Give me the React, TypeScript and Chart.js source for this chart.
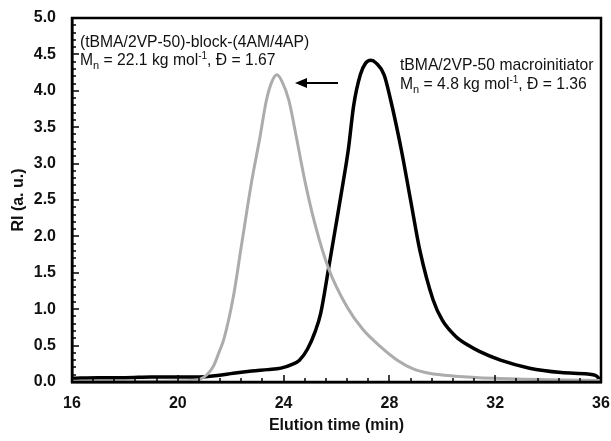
import React, { useEffect, useRef } from "react";
import { Chart, registerables } from "chart.js";
Chart.register(...registerables);

// (tBMA/2VP-50)-block-(4AM/4AP) — grey trace
const blockTime = [16.0, 19.0, 20.0, 20.5, 20.85, 21.1, 21.35, 21.55, 21.75, 22.1, 22.4, 22.8, 23.1, 23.35, 23.55, 23.75, 23.95, 24.2, 24.5, 24.8, 25.2, 25.7, 26.4, 27.0, 27.65, 28.3, 28.9, 29.5, 30.5, 32.0, 34.0, 36.0];
const blockRI = [0.01, 0.01, 0.015, 0.02, 0.04, 0.1, 0.22, 0.4, 0.6, 1.17, 1.86, 2.77, 3.35, 3.87, 4.12, 4.22, 4.12, 3.87, 3.33, 2.77, 2.15, 1.56, 1.03, 0.72, 0.49, 0.3, 0.18, 0.12, 0.08, 0.05, 0.03, 0.02];

// tBMA/2VP-50 macroinitiator — black trace
const macroTime = [16.0, 17.0, 18.0, 19.0, 20.0, 20.8, 21.5, 22.1, 22.8, 23.4, 23.9, 24.3, 24.6, 24.9, 25.2, 25.4, 25.7, 26.0, 26.25, 26.45, 26.65, 26.9, 27.1, 27.3, 27.5, 27.8, 28.05, 28.45, 28.8, 29.15, 29.65, 30.0, 30.5, 31.0, 31.4, 32.2, 33.3, 34.5, 35.5, 35.8, 36.0];
const macroRI = [0.05, 0.06, 0.06, 0.07, 0.07, 0.07, 0.09, 0.12, 0.15, 0.17, 0.19, 0.24, 0.3, 0.45, 0.7, 0.94, 1.56, 2.2, 2.74, 3.2, 3.8, 4.22, 4.38, 4.42, 4.38, 4.22, 3.87, 3.19, 2.5, 1.81, 1.13, 0.85, 0.63, 0.5, 0.42, 0.3, 0.19, 0.13, 0.11, 0.09, 0.02];

const xMin = 16;
const xMax = 36;
const xStep = 4;
const yMin = 0;
const yMax = 5;
const yStep = 0.5;

const W = 611;
const H = 441;
const FONT = "Arial, 'Liberation Sans', sans-serif";
const ANN = 15.7;

type Part = { t: string; kind?: "sub" | "sup" };

function drawRich(ctx: CanvasRenderingContext2D, x: number, y: number, parts: Part[]) {
  let cx = x;
  for (const p of parts) {
    if (p.kind === "sub") {
      ctx.font = `11px ${FONT}`;
      ctx.fillText(p.t, cx, y + 4);
    } else if (p.kind === "sup") {
      ctx.font = `10px ${FONT}`;
      ctx.fillText(p.t, cx, y - 6);
    } else {
      ctx.font = `${ANN}px ${FONT}`;
      ctx.fillText(p.t, cx, y);
    }
    cx += ctx.measureText(p.t).width;
  }
}

function drawDecor(chart: any, ctx: CanvasRenderingContext2D) {
  // pixel mapping taken from the library's own element positions (black trace)
  const pts = chart.getDatasetMeta(1).data;
  const n = pts.length - 1;
  const peak = macroRI.indexOf(Math.max(...macroRI));
  const X = (t: number) =>
    pts[0].x + ((t - macroTime[0]) * (pts[n].x - pts[0].x)) / (macroTime[n] - macroTime[0]);
  const Y = (v: number) =>
    pts[0].y + ((v - macroRI[0]) * (pts[peak].y - pts[0].y)) / (macroRI[peak] - macroRI[0]);
  const left = X(xMin);
  const right = X(xMax);
  const top = Y(yMax);
  const bottom = Y(yMin);
  ctx.save();

  // inner ticks
  ctx.strokeStyle = "#000";
  ctx.lineWidth = 1.5;
  const minorX = 5;
  const nx = ((xMax - xMin) / xStep) * minorX;
  for (let i = 0; i <= nx; i++) {
    const px = Math.round(X(xMin + (i * xStep) / minorX));
    const len = i % minorX === 0 ? 7 : 4;
    ctx.beginPath();
    ctx.moveTo(px, bottom);
    ctx.lineTo(px, bottom - len);
    ctx.stroke();
  }
  const minorY = 5;
  const ny = ((yMax - yMin) / yStep) * minorY;
  for (let i = 0; i <= ny; i++) {
    const py = Math.round(Y(yMin + (i * yStep) / minorY));
    const len = i % minorY === 0 ? 7 : 4;
    ctx.beginPath();
    ctx.moveTo(left, py);
    ctx.lineTo(left + len, py);
    ctx.stroke();
  }
  // frame
  ctx.lineWidth = 2.5;
  ctx.strokeRect(left, top, right - left, bottom - top);

  // annotations
  ctx.fillStyle = "#111";
  ctx.textBaseline = "alphabetic";
  ctx.textAlign = "left";
  drawRich(ctx, 80, 47, [{ t: "(tBMA/2VP-50)-block-(4AM/4AP)" }]);
  drawRich(ctx, 80, 65, [
    { t: "M" },
    { t: "n", kind: "sub" },
    { t: " = 22.1 kg mol" },
    { t: "-1", kind: "sup" },
    { t: ", Đ = 1.67" },
  ]);
  drawRich(ctx, 400, 70, [{ t: "tBMA/2VP-50 macroinitiator" }]);
  drawRich(ctx, 400, 89, [
    { t: "M" },
    { t: "n", kind: "sub" },
    { t: " = 4.8 kg mol" },
    { t: "-1", kind: "sup" },
    { t: ", Đ = 1.36" },
  ]);

  // arrow
  ctx.fillStyle = "#000";
  ctx.lineWidth = 2;
  ctx.beginPath();
  ctx.moveTo(338, 83);
  ctx.lineTo(303, 83);
  ctx.stroke();
  ctx.beginPath();
  ctx.moveTo(295, 83);
  ctx.lineTo(307, 78);
  ctx.lineTo(307, 88);
  ctx.closePath();
  ctx.fill();
  ctx.restore();
}

export default function App() {
  const ref = useRef<HTMLCanvasElement | null>(null);
  const overlayRef = useRef<HTMLCanvasElement | null>(null);
  useEffect(() => {
    document.body.style.margin = "0";
    const tickFont = { size: 16, weight: "bold", family: FONT };
    const decor = {
      id: "decor",
      afterDraw(chart: any) {
        const ov = overlayRef.current;
        if (!ov) return;
        const octx = ov.getContext("2d");
        if (!octx) return;
        octx.clearRect(0, 0, ov.width, ov.height);
        drawDecor(chart, octx);
      },
    };
    const chart = new Chart(ref.current as HTMLCanvasElement, {
      type: "line",
      data: {
        datasets: [
          {
            label: "(tBMA/2VP-50)-block-(4AM/4AP)",
            data: blockTime.map((t, i) => ({ x: t, y: blockRI[i] })),
            borderColor: "#acacac",
            borderWidth: 3,
            pointRadius: 0,
            cubicInterpolationMode: "monotone",
            fill: false,
          },
          {
            label: "tBMA/2VP-50 macroinitiator",
            data: macroTime.map((t, i) => ({ x: t, y: macroRI[i] })),
            borderColor: "#000",
            borderWidth: 3.5,
            pointRadius: 0,
            cubicInterpolationMode: "monotone",
            fill: false,
          },
        ],
      },
      options: {
        animation: false,
        responsive: true,
        maintainAspectRatio: false,
        layout: { padding: { top: 18, right: 10, left: 0, bottom: 0 } },
        plugins: { legend: { display: false }, tooltip: { enabled: false } },
        scales: {
          x: {
            type: "linear",
            min: xMin,
            max: xMax,
            grid: { display: false, drawTicks: false },
            border: { display: true, color: "#000", width: 2.5 },
            ticks: {
              stepSize: xStep,
              padding: 12,
              color: "#111",
              font: tickFont,
              maxRotation: 0,
            },
            title: {
              display: true,
              text: "Elution time (min)",
              color: "#111",
              font: tickFont,
              padding: { top: 0, bottom: 6 },
            },
            afterFit: (s: any) => {
              s.height = 59;
              s.paddingLeft = 0;
              s.paddingRight = 0;
            },
          },
          y: {
            type: "linear",
            min: yMin,
            max: yMax,
            grid: { display: false, drawTicks: false },
            border: { display: true, color: "#000", width: 2.5 },
            ticks: {
              stepSize: yStep,
              padding: 16,
              color: "#111",
              font: tickFont,
              callback: (v: any) => Number(v).toFixed(1),
            },
            title: {
              display: true,
              text: "RI (a. u.)",
              color: "#111",
              font: tickFont,
              padding: { top: 9, bottom: 0 },
            },
            afterFit: (s: any) => {
              s.width = 72;
              s.paddingTop = 0;
              s.paddingBottom = 0;
            },
          },
        },
      },
      plugins: [decor],
    } as any);
    return () => chart.destroy();
  }, []);
  return (
    <div style={{ position: "relative", width: W, height: H }}>
      <canvas ref={ref} />
      <canvas
        ref={overlayRef}
        width={W}
        height={H}
        style={{ position: "absolute", left: 0, top: 0, pointerEvents: "none" }}
      />
    </div>
  );
}
